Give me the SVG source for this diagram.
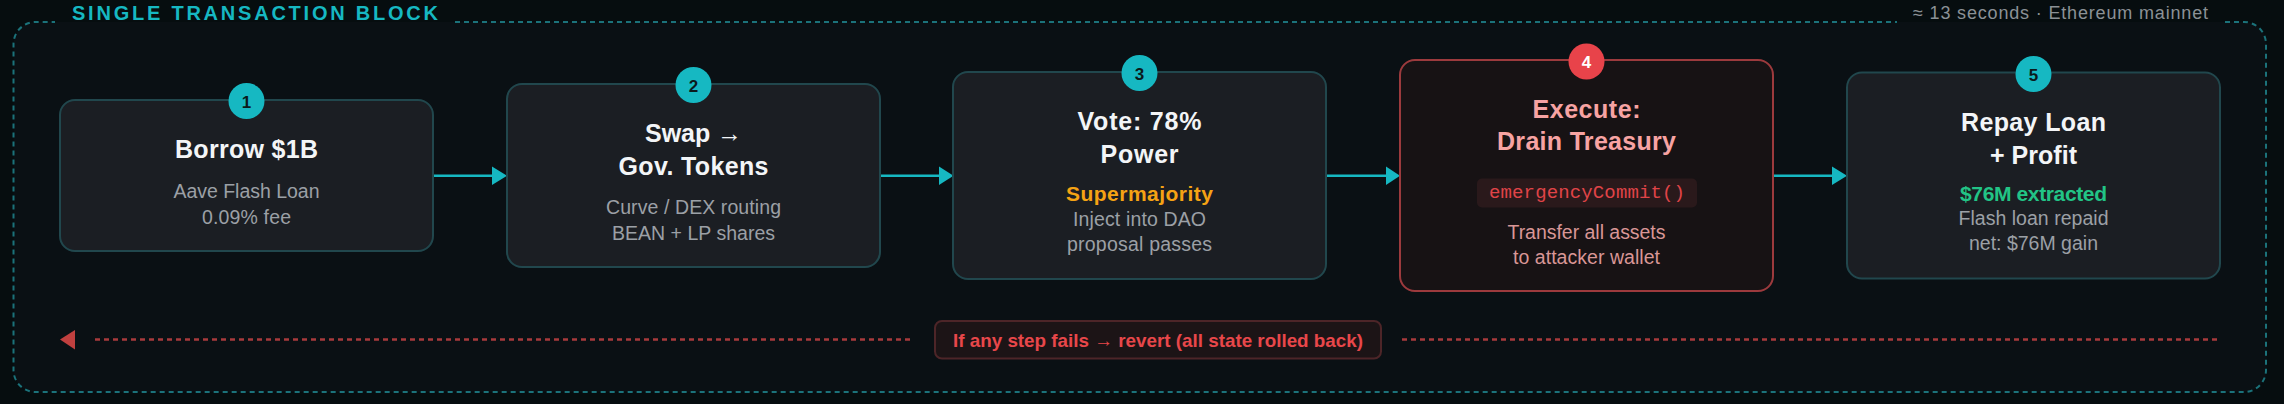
<svg xmlns="http://www.w3.org/2000/svg" width="2284" height="404" viewBox="0 0 2284 404">
  <defs>
    <style>
      .t { font-family: "Liberation Sans", Arial, sans-serif; text-anchor: middle; }
      .title { font-size: 25px; font-weight: 700; fill: #f3f5f7; }
      .sub { font-size: 19.5px; fill: #9ca0a6; }
      .hl { font-size: 21px; font-weight: 700; }
      .box { fill: #1b1e23; stroke: #21474d; stroke-width: 2; }
      .badge { fill: #16b8c2; }
      .bnum { font-size: 17px; font-weight: 700; fill: #0b1a1c; }
      .conn { stroke: #16b8c2; stroke-width: 2.5; fill: none; }
      .head { fill: #16b8c2; }
      .frame { fill: none; stroke: #1b727a; stroke-width: 2; stroke-dasharray: 5 4; }
    </style>
  </defs>
  <rect width="2284" height="404" fill="#060d0f"/>
  <rect x="13.5" y="22" width="2253" height="370" rx="22" fill="#0a1014"/>
  <g id="frame">
    <path class="frame" d="M455 22 H1897"/>
    <path class="frame" d="M2225 22 H2244 A22 22 0 0 1 2266 44 V370 A22 22 0 0 1 2244 392 H35.5 A22 22 0 0 1 13.5 370 V44 A22 22 0 0 1 35.5 22 H55"/>
    <text class="t" x="255" y="19.5" style="font-size:20px;font-weight:700;fill:#16b8c2" textLength="366" lengthAdjust="spacing">SINGLE TRANSACTION BLOCK</text>
    <text class="t" x="2060.5" y="18.5" style="font-size:18px;fill:#8b9196" textLength="295" lengthAdjust="spacing">≈ 13 seconds · Ethereum mainnet</text>
  </g>

  <g id="connectors">
    <line class="conn" x1="433" y1="175.7" x2="494" y2="175.7"/>
    <polygon class="head" points="507,175.7 492,166.5 492,185"/>
    <line class="conn" x1="880" y1="175.7" x2="941" y2="175.7"/>
    <polygon class="head" points="953.5,175.7 939,166.5 939,185"/>
    <line class="conn" x1="1326" y1="175.7" x2="1388" y2="175.7"/>
    <polygon class="head" points="1400,175.7 1386,166.5 1386,185"/>
    <line class="conn" x1="1773" y1="175.7" x2="1834" y2="175.7"/>
    <polygon class="head" points="1847,175.7 1832,166.5 1832,185"/>
  </g>

  <g id="node1">
    <rect class="box" x="60" y="100" width="373" height="151" rx="15"/>
    <circle class="badge" cx="246.5" cy="101" r="18"/>
    <text class="t bnum" x="246.5" y="107.5">1</text>
    <text class="t title" x="246.5" y="158" textLength="143" lengthAdjust="spacing">Borrow $1B</text>
    <text class="t sub" x="246.5" y="198" textLength="146" lengthAdjust="spacing">Aave Flash Loan</text>
    <text class="t sub" x="246.5" y="223.5" textLength="89" lengthAdjust="spacing">0.09% fee</text>
  </g>

  <g id="node2">
    <rect class="box" x="507" y="84" width="373" height="183" rx="15"/>
    <circle class="badge" cx="693.5" cy="85" r="18"/>
    <text class="t bnum" x="693.5" y="91.5">2</text>
    <text class="t title" x="693.5" y="142" textLength="97" lengthAdjust="spacing">Swap →</text>
    <text class="t title" x="693.5" y="174.5" textLength="150" lengthAdjust="spacing">Gov. Tokens</text>
    <text class="t sub" x="693.5" y="214" textLength="175" lengthAdjust="spacing">Curve / DEX routing</text>
    <text class="t sub" x="693.5" y="240" textLength="163" lengthAdjust="spacing">BEAN + LP shares</text>
  </g>

  <g id="node3">
    <rect class="box" x="953" y="72" width="373" height="207" rx="15"/>
    <circle class="badge" cx="1139.5" cy="73" r="18"/>
    <text class="t bnum" x="1139.5" y="79.5">3</text>
    <text class="t title" x="1139.5" y="130" textLength="124" lengthAdjust="spacing">Vote: 78%</text>
    <text class="t title" x="1139.5" y="162.5" textLength="78" lengthAdjust="spacing">Power</text>
    <text class="t hl" x="1139.5" y="201" fill="#f5a314" textLength="147" lengthAdjust="spacing">Supermajority</text>
    <text class="t sub" x="1139.5" y="226" textLength="133" lengthAdjust="spacing">Inject into DAO</text>
    <text class="t sub" x="1139.5" y="250.5" textLength="145" lengthAdjust="spacing">proposal passes</text>
  </g>

  <g id="node4">
    <rect x="1400" y="60" width="373" height="231" rx="15" fill="#171214" stroke="#9c3a3d" stroke-width="2"/>
    <circle cx="1586.5" cy="61.5" r="18" fill="#e8434a"/>
    <text class="t bnum" x="1586.5" y="68" style="fill:#ffffff">4</text>
    <text class="t title" x="1586.5" y="118" style="fill:#f7a3a3" textLength="108" lengthAdjust="spacing">Execute:</text>
    <text class="t title" x="1586.5" y="150" style="fill:#f7a3a3" textLength="179" lengthAdjust="spacing">Drain Treasury</text>
    <rect x="1477" y="178.5" width="220" height="29" rx="5" fill="#2a191b"/>
    <text x="1587" y="198" text-anchor="middle" style="font-family:'Liberation Mono','Courier New',monospace;font-size:19px;fill:#e04448" textLength="196" lengthAdjust="spacing">emergencyCommit()</text>
    <text class="t sub" x="1586.5" y="238.5" style="fill:#d99696" textLength="158" lengthAdjust="spacing">Transfer all assets</text>
    <text class="t sub" x="1586.5" y="263.5" style="fill:#d99696" textLength="147" lengthAdjust="spacing">to attacker wallet</text>
  </g>

  <g id="node5">
    <rect class="box" x="1847" y="72.5" width="373" height="206" rx="15"/>
    <circle class="badge" cx="2033.5" cy="74" r="18"/>
    <text class="t bnum" x="2033.5" y="80.5">5</text>
    <text class="t title" x="2033.5" y="131" textLength="145" lengthAdjust="spacing">Repay Loan</text>
    <text class="t title" x="2033.5" y="163.5" textLength="87" lengthAdjust="spacing">+ Profit</text>
    <text class="t hl" x="2033.5" y="200.5" fill="#22c486" textLength="147" lengthAdjust="spacing">$76M extracted</text>
    <text class="t sub" x="2033.5" y="225" textLength="150" lengthAdjust="spacing">Flash loan repaid</text>
    <text class="t sub" x="2033.5" y="250" textLength="129" lengthAdjust="spacing">net: $76M gain</text>
  </g>

  <g id="revert">
    <polygon points="60,339.5 75,330 75,349.5" fill="#c0403f"/>
    <path d="M95 339.5 H914 M1402 339.5 H2221" stroke="#a83a3c" stroke-width="2.5" stroke-dasharray="5 4" fill="none"/>
    <rect x="935" y="321" width="446" height="37.5" rx="7" fill="#1c1416" stroke="#4d2528" stroke-width="2"/>
    <text class="t" x="1158" y="346.5" style="font-size:19px;font-weight:700;fill:#e8474a" textLength="410" lengthAdjust="spacingAndGlyphs">If any step fails → revert (all state rolled back)</text>
  </g>
</svg>
